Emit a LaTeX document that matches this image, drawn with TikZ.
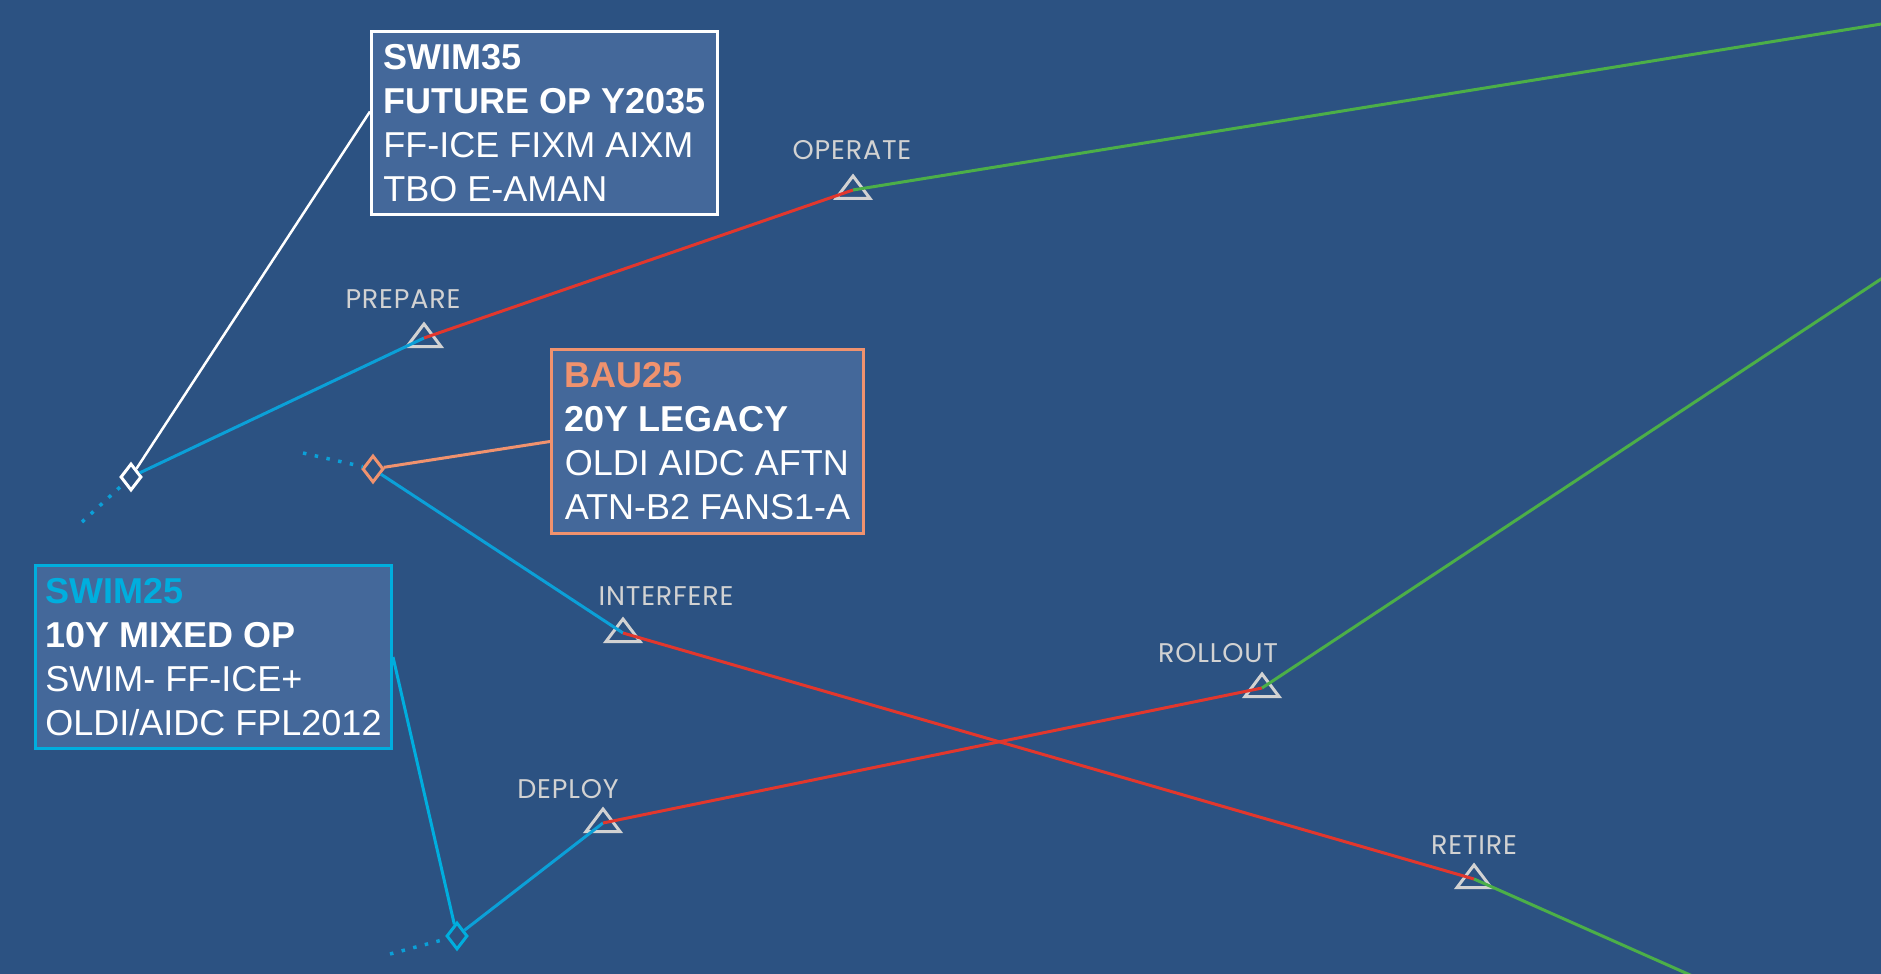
\documentclass[tikz,border=0pt]{standalone}
\usepackage{fontspec}
\setmainfont{Liberation Sans}
\newfontfamily\phasefont[LetterSpace=3]{Poppins}
\usetikzlibrary{shapes.geometric}

\definecolor{bgblue}{HTML}{2C5282}
\definecolor{boxblue}{HTML}{44689A}
\definecolor{lineblue}{HTML}{0BA0D8}
\definecolor{swimcyan}{HTML}{00AEDE}
\definecolor{phasered}{HTML}{E2372D}
\definecolor{phasegreen}{HTML}{4CAF48}
\definecolor{bauorange}{HTML}{F0926E}
\definecolor{markgray}{HTML}{D2D2D2}

\tikzset{
  infobox/.style={draw=#1, line width=1.5pt, fill=boxblue, text=white,
    inner sep=0pt, align=left, font=\fontsize{18pt}{22pt}\selectfont},
  gate/.style={diamond, draw=#1, line width=1.5pt, inner sep=0pt,
    minimum width=10.5pt, minimum height=13.5pt},
  phaselabel/.style={text=markgray, inner sep=0pt,
    font=\phasefont\fontsize{13.5pt}{15pt}\selectfont},
  phaseline/.style={#1, line width=1.5pt},
  tail/.style={lineblue, line width=1.75pt, dash pattern=on 1.75pt off 4.25pt},
  milestonetri/.style={draw=markgray, line width=1.5pt}
}

\begin{document}
\begin{tikzpicture}[x=0.5pt,y=-0.5pt]

    % Background panel, one unit is one pixel of the reference
    \fill[bgblue] (0,0) rectangle (1881,974);
    \useasboundingbox (0,0) rectangle (1881,974);
    \clip (0,0) rectangle (1881,974);

    % Milestones where one phase hands over to the next
    \coordinate (prepare) at (424,338);
    \coordinate (operate) at (853,190);
    \coordinate (interfere) at (623,633);
    \coordinate (deploy) at (603,823);
    \coordinate (rollout) at (1262,688);
    \coordinate (retire) at (1474,879);

    % Free ends of the lines, just outside the border
    \coordinate (operateEnd) at (1900,21);
    \coordinate (rolloutEnd) at (1900,266.5);
    \coordinate (retireEnd) at (1724,990);

    % Start of each scenario
    \node[gate=white] (swim35Gate) at (131,477) {};
    \node[gate=bauorange] (bau25Gate) at (373,469) {};
    \node[gate=swimcyan] (swim25Gate) at (457,936) {};
    \coordinate (swim35Tail) at (82,522);
    \coordinate (bau25Tail) at (303,453);
    \coordinate (swim25Tail) at (390,954);

    % Triangles first, the lines run over them
    \foreach \m in {prepare,operate,interfere,deploy,rollout,retire}
        \draw[milestonetri] ([shift={(-17,8.5)}]\m) -- ([shift={(0,-14)}]\m)
            -- ([shift={(17,8.5)}]\m) -- cycle;

    % Dotted history before each start
    \draw[tail] (swim35Tail) -- (swim35Gate);
    \draw[tail] (bau25Tail) -- (bau25Gate);
    \draw[tail] (swim25Tail) -- (swim25Gate);

    % SWIM35: prepare, operate
    \draw[phaseline=lineblue] (swim35Gate) -- (prepare);
    \draw[phaseline=phasered] (prepare) -- (operate);
    \draw[phaseline=phasegreen] (operate) -- (operateEnd);

    % BAU25: interfere, retire
    \draw[phaseline=lineblue] (bau25Gate) -- (interfere);
    \draw[phaseline=phasered] (interfere) -- (retire);
    \draw[phaseline=phasegreen] (retire) -- (retireEnd);

    % SWIM25: deploy, rollout
    \draw[phaseline=lineblue] (swim25Gate) -- (deploy);
    \draw[phaseline=phasered] (deploy) -- (rollout);
    \draw[phaseline=phasegreen] (rollout) -- (rolloutEnd);

    % Phase names
    \node[phaselabel] (prepareLbl) at (403,299) {PREPARE};
    \node[phaselabel] (operateLbl) at (852,150) {OPERATE};
    \node[phaselabel] (interfereLbl) at (666,596) {INTERFERE};
    \node[phaselabel] (deployLbl) at (568,789) {DEPLOY};
    \node[phaselabel] (rolloutLbl) at (1218,653) {ROLLOUT};
    \node[phaselabel] (retireLbl) at (1474,845) {RETIRE};

    % Scenario boxes
    \node[infobox=white, minimum width=173pt, minimum height=91.5pt]
        (swim35) at (544.5,123.5)
        {\textbf{SWIM35}\\ \textbf{FUTURE OP Y2035}\\ FF-ICE FIXM AIXM\\ TBO E-AMAN};
    \node[infobox=bauorange, minimum width=156pt, minimum height=92pt]
        (bau25) at (707.5,441.5)
        {\textbf{\color{bauorange}BAU25}\\ \textbf{20Y LEGACY}\\ OLDI AIDC AFTN\\ ATN-B2 FANS1-A};
    \node[infobox=swimcyan, minimum width=178pt, minimum height=91.5pt]
        (swim25) at (213.5,657)
        {\textbf{\color{swimcyan}SWIM25}\\ \textbf{10Y MIXED OP}\\ SWIM- FF-ICE+\\ OLDI/AIDC FPL2012};

    % Connectors from the boxes to their start
    \draw[white, line width=1.25pt] ([yshift=6pt]swim35.west) -- (swim35Gate);
    \draw[bauorange, line width=1.5pt] (bau25.west) -- (bau25Gate);
    \draw[swimcyan, line width=1.5pt] (swim25.east) -- (swim25Gate);

\end{tikzpicture}
\end{document}
